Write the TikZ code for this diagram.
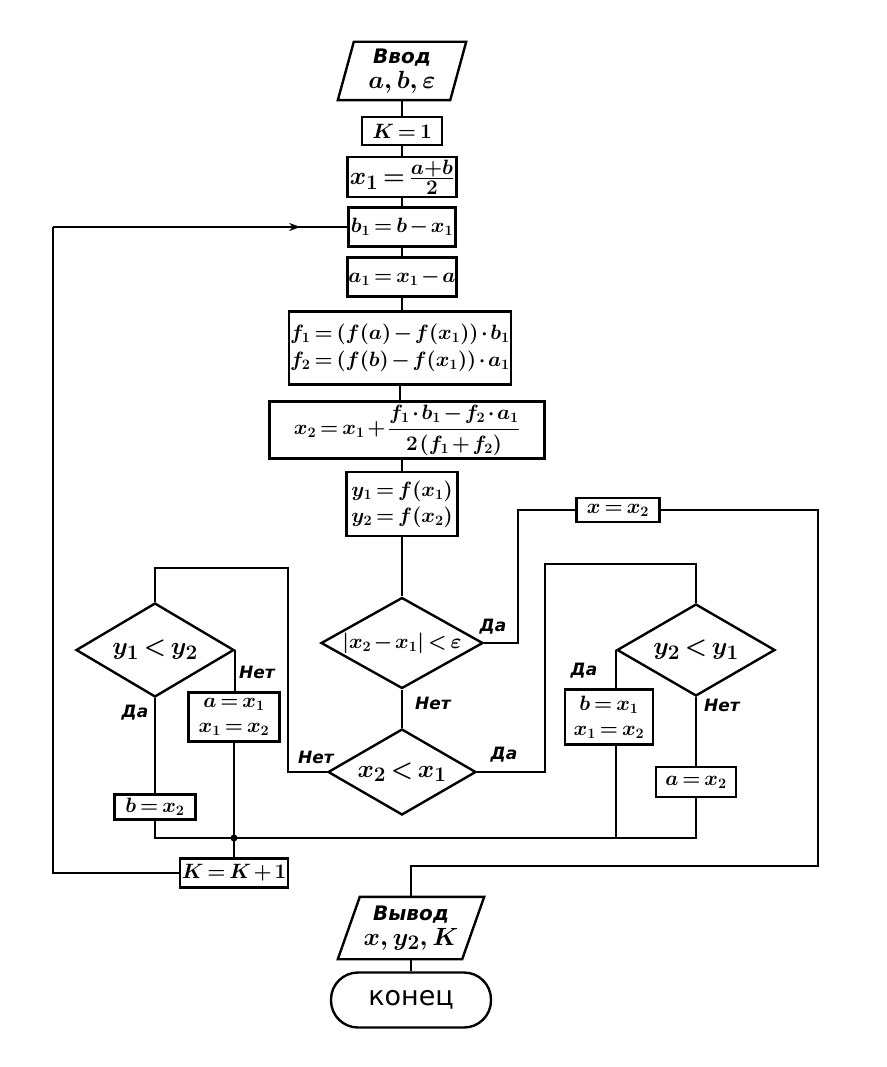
\documentclass[tikz,border=0pt]{standalone}
\usepackage{amsmath}
\usepackage{fontspec}
\setmainfont{DejaVu Sans}
\usetikzlibrary{shapes.geometric,arrows.meta,decorations.markings}
\newcommand\tightmath{\medmuskip=2mu plus 1mu\thickmuskip=3mu plus 1mu\thinmuskip=1.5mu}
\newcommand\fsbig{\fontsize{24.88}{28}\selectfont\boldmath\tightmath}
\newcommand\fsbox{\fontsize{20.74}{25}\selectfont\boldmath\tightmath}
\newcommand\fslab{\fontsize{17}{20}\selectfont\bfseries\itshape}
\begin{document}
\begin{tikzpicture}[x=1pt,y=-1pt,
  conn/.style={line width=2.4pt},
  box/.style={draw, rectangle, line width=2.4pt, inner sep=1pt, align=center, font=\fsbox},
  dia/.style={draw, diamond, shape aspect=1.75, line width=2.4pt, inner sep=0pt, font=\fsbig},
  lab/.style={font=\fslab, inner sep=0pt},
  parbox/.style={rectangle, inner sep=1pt, align=center, font=\fsbig},
  term/.style={draw, rectangle, rounded corners=27pt, line width=2.4pt, font=\fontsize{27}{30}\selectfont},
  markarrow/.style={decoration={markings, mark=at position 0.84 with {\arrow{Stealth[length=11pt,width=8pt]}}}, postaction={decorate}}
]
\useasboundingbox (0,0) rectangle (886,1067);

% main chain
\node[parbox, minimum width=112pt, minimum height=58pt] (in) at (402,71) {{\fontsize{20}{23}\selectfont\bfseries\itshape Ввод}\\[-3pt]$a,\,b,\,\varepsilon$};
\draw[line width=2.4pt] ([xshift=8pt]in.north west) -- ([xshift=8pt]in.north east) -- ([xshift=-8pt]in.south east) -- ([xshift=-8pt]in.south west) -- cycle;
\node[box, minimum width=80pt, minimum height=28pt] (k1) at (402,131) {$K=1$};
\node[box, font=\fsbig, minimum width=109pt, minimum height=40pt] (x1) at (402,177) {$x_1=\frac{a+b}{2}$};
\node[box, minimum width=107pt, minimum height=39pt] (b1) at (402,227) {$b_1=b-x_1$};
\node[box, minimum width=107pt, minimum height=39pt] (a1) at (402,277) {$a_1=x_1-a$};
\node[box, minimum width=202pt, minimum height=73pt] (f) at (400,348) {$f_1=(f(a)-f(x_1))\cdot b_1$\\[2pt]$f_2=(f(b)-f(x_1))\cdot a_1$};
\node[box, minimum width=275pt, minimum height=57pt] (x2) at (407,430) {$x_2=x_1+\dfrac{f_1\cdot b_1-f_2\cdot a_1}{2\,(f_1+f_2)}$};
\node[box, minimum width=111pt, minimum height=64pt] (y) at (402,504) {$y_1=f(x_1)$\\[1pt]$y_2=f(x_2)$};
\node[dia, font=\fsbox, minimum width=162pt, minimum height=91pt] (d1) at (402,643) {$|x_2-x_1|<\varepsilon$};
\node[dia, minimum width=148pt, minimum height=86pt] (d2) at (402,772) {$x_2<x_1$};

% side branches
\node[dia, minimum width=158pt, minimum height=94pt] (dl) at (155,650) {$y_1<y_2$};
\node[dia, minimum width=158pt, minimum height=92pt] (dr) at (696,650) {$y_2<y_1$};
\node[box, minimum width=83pt, minimum height=24pt] (xx) at (618,510) {$x=x_2$};
\node[box, minimum width=91pt, minimum height=49pt] (ax1) at (234,717) {$a=x_1$\\$x_1=x_2$};
\node[box, minimum width=81pt, minimum height=25pt] (bx2) at (155,807) {$b=x_2$};
\node[box, minimum width=88pt, minimum height=55pt] (bx1) at (609,717) {$b=x_1$\\$x_1=x_2$};
\node[box, minimum width=80pt, minimum height=30pt] (ax2) at (696,782) {$a=x_2$};
\node[box, minimum width=108pt, minimum height=29pt] (kk) at (234,873) {$K=K+1$};

% output and end
\node[parbox, minimum width=124pt, minimum height=62pt] (out) at (411,928) {{\fontsize{20}{23}\selectfont\bfseries\itshape Вывод}\\[-3pt]$x,\,y_2,\,K$};
\draw[line width=2.4pt] ([xshift=11pt]out.north west) -- ([xshift=11pt]out.north east) -- ([xshift=-11pt]out.south east) -- ([xshift=-11pt]out.south west) -- cycle;
\node[term, minimum width=160pt, minimum height=55pt] (end) at (411,1000) {конец};

% labels
\node[lab] (l1) at (493,627) {Да};
\node[lab] (l2) at (433,703) {Нет};
\node[lab] (l3) at (316,757) {Нет};
\node[lab] (l4) at (504,755) {Да};
\node[lab] (l5) at (135,713) {Да};
\node[lab] (l6) at (257,672) {Нет};
\node[lab] (l7) at (584,671) {Да};
\node[lab] (l8) at (722,705) {Нет};

% coordinates
\coordinate (c1) at (518,643);
\coordinate (rc) at (818,866);
\coordinate (c2) at (288,772);
\coordinate (c3) at (155,568);
\coordinate (c4) at (545,772);
\coordinate (c5) at (696,564);
\coordinate (j) at (234,838);
\coordinate (lc) at (53,227);

% connectors
\draw[conn] (in.south) -- (k1.north);
\draw[conn] (k1) -- (x1);
\draw[conn] (x1) -- (b1);
\draw[conn] (b1) -- (a1);
\draw[conn] (a1.south) -- (a1.south |- f.north);
\draw[conn] (f.south) -- (f.south |- x2.north);
\draw[conn] (x2.south -| y.north) -- (y.north);
\draw[conn] (y.south) -- (d1.north);
\draw[conn] (d1.south) -- (d2.north);
\draw[conn] (d1.east) -- (c1) |- (xx.west);
\draw[conn] (xx.east) -| (rc) -| (out.north);
\draw[conn] (out.south) -- (end.north);
\draw[conn] (d2.west) -- (c2) |- (c3) -- (dl.north);
\draw[conn] (d2.east) -- (c4) |- (c5) -- (dr.north);
\draw[conn] (dl.south) -- (bx2.north);
\draw[conn] (dl.east) -- (dl.east |- ax1.north);
\draw[conn] (dr.west) -- (dr.west |- bx1.north);
\draw[conn] (dr.south) -- (ax2.north);
\draw[conn] (bx2.south) |- (j);
\draw[conn] (ax1.south) -- (j) -- (kk.north);
\draw[conn] (ax2.south) |- (j);
\draw[conn] (bx1.south -| dr.west) -- (dr.west |- j);
\fill (j) circle (3.5pt);
\draw[conn] (kk.west) -| (lc);
\draw[conn, markarrow] (lc) -- (b1.west);
\end{tikzpicture}
\end{document}
